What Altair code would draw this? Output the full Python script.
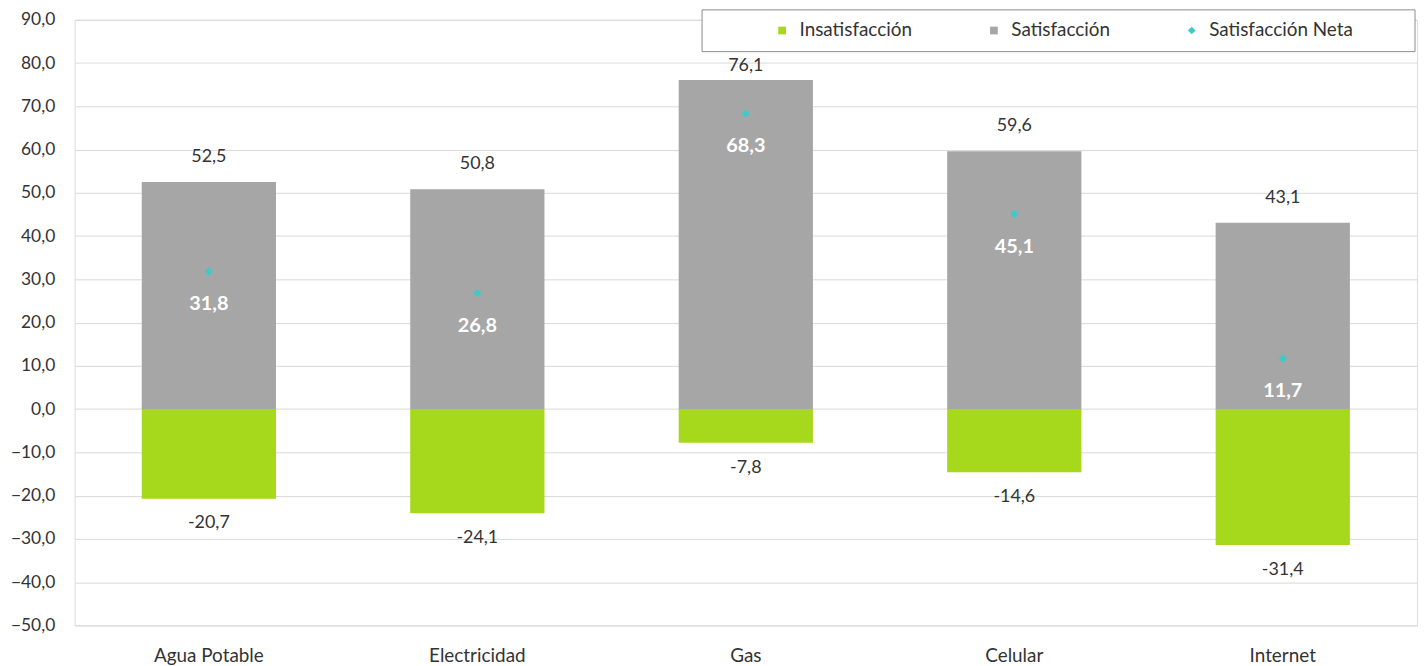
import altair as alt
import pandas as pd

categorias = ["Agua Potable", "Electricidad", "Gas", "Celular", "Internet"]
satisfaccion = [52.5, 50.8, 76.1, 59.6, 43.1]
insatisfaccion = [-20.7, -24.1, -7.8, -14.6, -31.4]
neta = [31.8, 26.8, 68.3, 45.1, 11.7]
series = ["Insatisfacción", "Satisfacción", "Satisfacción Neta"]
colores = ["#a6d81b", "#a6a6a6", "#3ccaca"]
y_ticks = list(range(-50, 91, 10))
FONT = "Lato"
TXT = "#333333"


def fmt(v):
    return f"{v:.1f}".replace(".", ",")


bars = pd.DataFrame({
    "cat": categorias * 2,
    "serie": [series[0]] * 5 + [series[1]] * 5,
    "valor": insatisfaccion + satisfaccion,
})
bars["label"] = bars["valor"].map(fmt)
net = pd.DataFrame({"cat": categorias, "serie": series[2], "valor": neta,
                    "label": [fmt(v) for v in neta]})

leg = alt.Legend(title=None, orient="none", legendX=702, legendY=1, direction="horizontal",
                 labelFontSize=19, labelFont=FONT, labelColor=TXT, symbolSize=60,
                 columnPadding=72, labelOffset=8, symbolStrokeWidth=0, padding=0)

color = alt.Color("serie:N", scale=alt.Scale(domain=series, range=colores), legend=leg)
shape = alt.Shape("serie:N", scale=alt.Scale(domain=series, range=["square", "square", "diamond"]), legend=leg)

x = alt.X("cat:N", sort=categorias,
          scale=alt.Scale(paddingInner=0.5, paddingOuter=0.25),
          axis=alt.Axis(title=None, labelAngle=0, domain=False, ticks=False, labelPadding=21,
                        labelFontSize=19, labelFont=FONT, labelColor=TXT, grid=False))
y = alt.Y("valor:Q", scale=alt.Scale(domain=[-50, 90], nice=False),
          axis=alt.Axis(title=None, values=y_ticks,
                        labelExpr="replace(format(datum.value, '.1f'), '.', ',')",
                        domain=False, ticks=False, gridColor="#d9d9d9", labelPadding=20,
                        labelFontSize=17.5, labelFont=FONT, labelColor=TXT))

frame = alt.Chart(pd.DataFrame({"a": [0]})).mark_rect(
    fill="white", stroke="#8c8c8c", strokeWidth=1
).encode(x=alt.value(631), x2=alt.value(1348), y=alt.value(-10), y2=alt.value(32))

bar_layer = alt.Chart(bars).mark_bar().encode(x=x, y=y, color=color)

pos_text = alt.Chart(bars).transform_filter(alt.datum.valor > 0).transform_calculate(
    ypos="min(datum.valor, 73.5)"
).mark_text(dy=-25, fontSize=18, font=FONT, color=TXT).encode(
    x=alt.X("cat:N", sort=categorias), y=alt.Y("ypos:Q"), text="label:N")

neg_text = alt.Chart(bars).transform_filter(alt.datum.valor < 0).mark_text(
    dy=25, fontSize=18, font=FONT, color=TXT
).encode(x=alt.X("cat:N", sort=categorias), y=alt.Y("valor:Q"), text="label:N")

pts = alt.Chart(net).mark_point(filled=True, size=70, opacity=1).encode(
    x=alt.X("cat:N", sort=categorias), y=alt.Y("valor:Q"), color=color, shape=shape)

net_text = alt.Chart(net).mark_text(
    dy=33, fontSize=20, font=FONT, fontWeight="bold", color="white"
).encode(x=alt.X("cat:N", sort=categorias), y=alt.Y("valor:Q"), text="label:N")

chart = alt.layer(frame, bar_layer, pos_text, neg_text, pts, net_text).properties(
    width=1350, height=609,
    autosize=alt.AutoSizeParams(type="none"),
    padding={"left": 67, "top": 10, "right": 1, "bottom": 42}
).configure_view(stroke=None).configure(font=FONT)

chart.save("out.html", embed_options={"renderer": "svg", "actions": False})
